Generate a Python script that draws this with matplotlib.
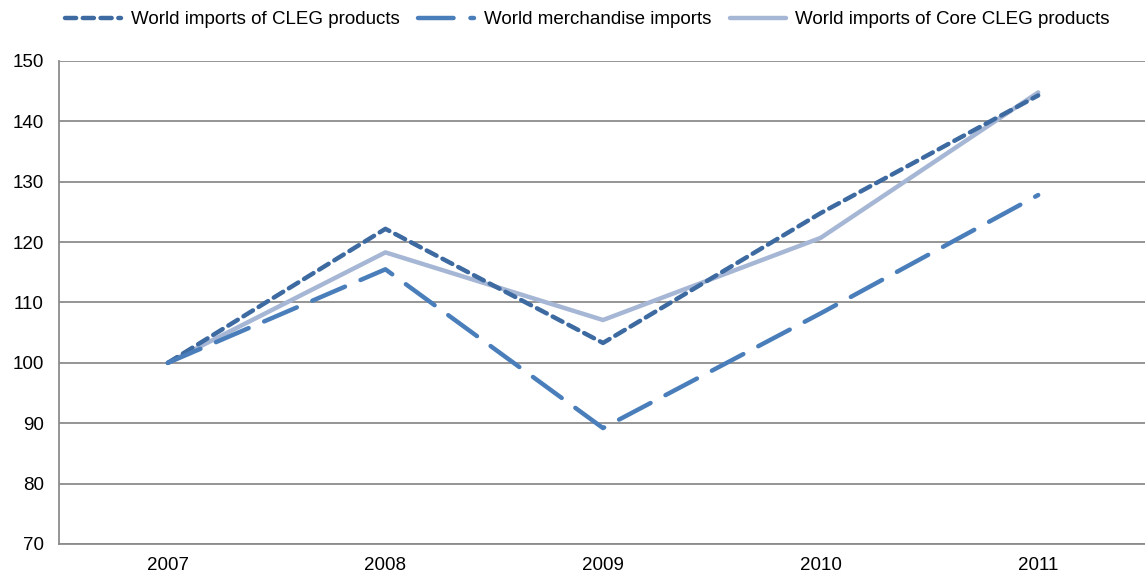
import matplotlib
matplotlib.use("Agg")
import matplotlib.pyplot as plt

plt.rcParams['font.family'] = ['Liberation Sans', 'DejaVu Sans']

years = ['2007', '2008', '2009', '2010', '2011']
cleg = [100, 122.2, 103.3, 124.8, 144.3]
merchandise = [100, 115.5, 89.2, 108.2, 127.8]
core_cleg = [100, 118.3, 107.1, 120.7, 144.8]

labels = ['World imports of CLEG products',
          'World merchandise imports',
          'World imports of Core CLEG products']

fig = plt.figure(figsize=(11.45, 5.76), dpi=100)
ax = fig.add_axes([59 / 1145, 1 - 544 / 576, 1088 / 1145, 483 / 576])

x = range(len(years))
ax.plot(x, cleg, color='#3d6aa0', lw=3.2, dashes=(2.5, 1.5),
        dash_capstyle='round', solid_joinstyle='round', label=labels[0], zorder=3)
ax.plot(x, merchandise, color='#4a7ebb', lw=3.2, dashes=(8, 3.8),
        dash_capstyle='round', label=labels[1], zorder=3)
ax.plot(x, core_cleg, color='#a6b6d5', lw=3.2, solid_capstyle='round',
        label=labels[2], zorder=2)

ax.set_xlim(-0.5, len(years) - 0.5)
ax.set_ylim(70, 150)
ax.set_yticks(range(70, 151, 10))
ax.set_xticks(list(x))
ax.set_xticklabels(years)
ax.yaxis.grid(True, color='#8c8c8c', lw=1.3)
ax.set_axisbelow(True)
ax.tick_params(length=0, labelsize=13.5, pad=11)
ax.tick_params(axis='x', pad=9)
for side in ['top', 'right']:
    ax.spines[side].set_visible(False)
for side in ['left', 'bottom']:
    ax.spines[side].set_color('#8c8c8c')
    ax.spines[side].set_linewidth(1.3)

fig.legend(loc='upper center', bbox_to_anchor=(0.513, 1.01), ncol=3, frameon=False,
           fontsize=13.5, handlelength=3.0, columnspacing=1.0, handletextpad=0.5)

fig.savefig('out.png', dpi=100)
